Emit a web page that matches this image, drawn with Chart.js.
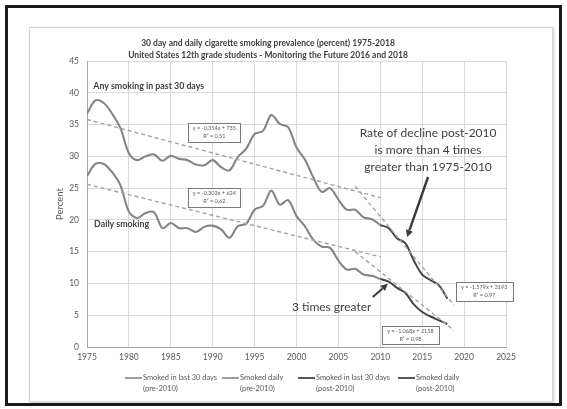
<!DOCTYPE html>
<html><head><meta charset="utf-8">
<script src="https://cdn.jsdelivr.net/npm/chart.js@4"></script>
<style>
html,body{margin:0;padding:0;background:#fff;width:567px;height:409px;overflow:hidden;}
#frame{position:absolute;left:5px;top:5px;width:551px;height:395px;border:3px solid #1a1a1a;}
#panel{position:absolute;left:29px;top:27px;width:522px;height:373px;border:1px solid #d4d4d4;background:#fff;box-shadow:1px 1px 3px rgba(0,0,0,0.18);}
#c{position:absolute;left:0;top:0;}
</style></head><body>
<div id="frame"></div><div id="panel"></div>
<canvas id="c" width="567" height="409"></canvas>
<script>
// ---- data ----
const years = [1975,1976,1977,1978,1979,1980,1981,1982,1983,1984,1985,1986,1987,1988,1989,1990,1991,1992,1993,1994,1995,1996,1997,1998,1999,2000,2001,2002,2003,2004,2005,2006,2007,2008,2009,2010,2011,2012,2013,2014,2015,2016,2017,2018];
const smoked30 = [36.7,38.8,38.4,36.7,34.4,30.5,29.4,30.0,30.3,29.3,30.1,29.6,29.4,28.7,28.6,29.4,28.3,27.8,29.9,31.2,33.5,34.0,36.5,35.1,34.6,31.4,29.5,26.7,24.4,25.0,23.2,21.6,21.6,20.4,20.1,19.2,18.7,17.1,16.3,13.6,11.4,10.5,9.7,7.6];
const smokedDaily = [26.9,28.8,28.8,27.5,25.4,21.3,20.3,21.1,21.2,18.7,19.5,18.7,18.7,18.1,18.9,19.1,18.5,17.2,19.0,19.4,21.6,22.2,24.6,22.4,23.1,20.6,19.0,16.9,15.8,15.6,13.6,12.2,12.3,11.4,11.2,10.7,10.3,9.3,8.5,6.7,5.5,4.8,4.2,3.6];
const splitYear = 2010;
const xTicks = [1975,1980,1985,1990,1995,2000,2005,2010,2015,2020,2025];
const yTicks = [0,5,10,15,20,25,30,35,40,45];
// trendline endpoints
const trend30PreX = [1975, 2010], trend30PreY = [35.8, 23.5];
const trendDailyPreX = [1975, 2010], trendDailyPreY = [25.6, 14.2];
const trend30PostX = [2007, 2018.8], trend30PostY = [25.3, 6.6];
const trendDailyPostX = [2007, 2018.8], trendDailyPostY = [15.0, 2.6];
const seriesNames = ['Smoked in last 30 days (pre-2010)','Smoked daily (pre-2010)','Smoked in last 30 days (post-2010)','Smoked daily (post-2010)'];

const FONT = 'Lato, "Open Sans", sans-serif';
const pts = (xs, ys, f) => xs.map((x,i)=>({x:x, y:ys[i]})).filter(p=>f(p.x));
const pre30 = pts(years, smoked30, x=>x<=splitYear);
const preDaily = pts(years, smokedDaily, x=>x<=splitYear);
const post30 = pts(years, smoked30, x=>x>=splitYear);
const postDaily = pts(years, smokedDaily, x=>x>=splitYear);
const trend = (xs, ys) => xs.map((x,i)=>({x:x, y:ys[i]}));

const preColor = '#858585', postColor = '#454545', trendColor = '#a3a3a3';
const lineDs = (label, data, color, w) => ({label, data, borderColor:color, borderWidth:w, pointRadius:0, tension:0.33, fill:false, order:1});
const trendDs = (data) => ({label:'trend', data, borderColor:trendColor, borderWidth:1.4, borderDash:[4,3], pointRadius:0, tension:0, fill:false, order:0});

// annotations (positions in data units)
const plotLabels = [
  {text:'Any smoking in past 30 days', year:1975.75, value:41.0, font:'bold 8.8px '+FONT, color:'#404040', align:'left', maxW:115},
  {text:'Daily smoking', year:1975.85, value:19.35, font:'bold 8.8px '+FONT, color:'#404040', align:'left', maxW:55},
  {text:'Rate of decline post-2010', year:2015.7, value:33.6, font:'12px '+FONT, color:'#404040', align:'center', maxW:148},
  {text:'is more than 4 times', year:2015.7, value:30.95, font:'12px '+FONT, color:'#404040', align:'center', maxW:120},
  {text:'greater than 1975-2010', year:2015.7, value:28.3, font:'12px '+FONT, color:'#404040', align:'center', maxW:138},
  {text:'3 times greater', year:2004.2, value:6.3, font:'12px '+FONT, color:'#404040', align:'center', maxW:90}
];
const eqBoxes = [
  {eq:'y = -0.354x + 735', r2:'R² = 0.51', year:1990.2, value:33.8, w:52, h:19},
  {eq:'y = -0.303x + 624', r2:'R² = 0.62', year:1990.2, value:23.5, w:52, h:19},
  {eq:'y = -1.579x + 3193', r2:'R² = 0.97', year:2022.4, value:8.7, w:57, h:19},
  {eq:'y = -1.068x + 2158', r2:'R² = 0.98', year:2013.6, value:1.9, w:57, h:18}
];
const arrows = [
  {from:[2015.7, 26.75], to:[2013.2, 17.3], w:2.4},
  {from:[2009.1, 7.85], to:[2010.9, 9.95], w:2.0}
];

function arrow(c, x1, y1, x2, y2, w){
  const a = Math.atan2(y2-y1, x2-x1), hl = 7, hw = 3.6;
  const bx = x2 - hl*Math.cos(a), by = y2 - hl*Math.sin(a);
  c.strokeStyle = '#3a3a3a'; c.fillStyle = '#3a3a3a'; c.lineWidth = w;
  c.beginPath(); c.moveTo(x1,y1); c.lineTo(bx,by); c.stroke();
  c.beginPath(); c.moveTo(x2,y2);
  c.lineTo(bx + hw*Math.sin(a), by - hw*Math.cos(a));
  c.lineTo(bx - hw*Math.sin(a), by + hw*Math.cos(a));
  c.closePath(); c.fill();
}

const notes = {
  id:'notes',
  afterDatasetsDraw(chart){
    const c = chart.ctx, xs = chart.scales.x, ys = chart.scales.y;
    const X = v=>xs.getPixelForValue(v), Y = v=>ys.getPixelForValue(v);
    c.save();
    c.textBaseline = 'middle';
    for (const n of plotLabels){
      c.font = n.font; c.fillStyle = n.color; c.textAlign = n.align;
      c.fillText(n.text, X(n.year), Y(n.value), n.maxW);
    }
    for (const b of eqBoxes){
      const cx = X(b.year), cy = Y(b.value);
      const l = Math.round(cx-b.w/2)+0.5, t = Math.round(cy-b.h/2)+0.5;
      c.fillStyle = '#fff'; c.fillRect(l, t, b.w, b.h);
      c.strokeStyle = '#7a7a7a'; c.lineWidth = 1; c.strokeRect(l, t, b.w, b.h);
      c.fillStyle = '#5a5a5a'; c.font = '5.5px '+FONT; c.textAlign = 'center';
      c.fillText(b.eq, cx, cy-4, b.w-4);
      c.fillText(b.r2, cx, cy+4, b.w-4);
    }
    for (const a of arrows){
      arrow(c, X(a.from[0]), Y(a.from[1]), X(a.to[0]), Y(a.to[1]), a.w);
    }
    c.restore();
  },
  afterDraw(chart){
    const c = chart.ctx;
    c.save();
    c.textBaseline = 'middle'; c.textAlign = 'center';
    c.fillStyle = '#404040'; c.font = 'bold 8.5px '+FONT;
    c.fillText('30 day and daily cigarette smoking prevalence (percent) 1975-2018', 268, 43, 280);
    c.fillText('United States 12th grade students - Monitoring the Future 2016 and 2018', 268, 55, 316);
    // legend
    const items = [
      {name:seriesNames[0], color:preColor, w:1.6, x:143},
      {name:seriesNames[1], color:preColor, w:1.6, x:240},
      {name:seriesNames[2], color:postColor, w:1.8, x:316},
      {name:seriesNames[3], color:postColor, w:1.8, x:416}
    ];
    c.textAlign = 'left'; c.font = '7.5px '+FONT; c.fillStyle = '#595959';
    for (const it of items){
      const k = it.name.lastIndexOf(' (');
      const l1 = it.name.slice(0,k), l2 = it.name.slice(k+1);
      c.strokeStyle = it.color; c.lineWidth = it.w;
      c.beginPath(); c.moveTo(it.x-18, 378); c.lineTo(it.x-1, 378); c.stroke();
      c.fillText(l1, it.x, 378, 74);
      c.fillText(l2, it.x, 389, 74);
    }
    c.restore();
  }
};

new Chart(document.getElementById('c'), {
  type:'line',
  data:{datasets:[
    lineDs(seriesNames[0], pre30, preColor, 2.1),
    lineDs(seriesNames[1], preDaily, preColor, 2.1),
    lineDs(seriesNames[2], post30, postColor, 2),
    lineDs(seriesNames[3], postDaily, postColor, 2),
    trendDs(trend(trend30PreX, trend30PreY)),
    trendDs(trend(trendDailyPreX, trendDailyPreY)),
    trendDs(trend(trend30PostX, trend30PostY)),
    trendDs(trend(trendDailyPostX, trendDailyPostY))
  ]},
  options:{
    responsive:false, animation:false, devicePixelRatio:1,
    layout:{padding:{left:50, top:61, right:61, bottom:42}},
    plugins:{legend:{display:false}, title:{display:false}, tooltip:{enabled:false}},
    scales:{
      x:{type:'linear', min:xTicks[0], max:xTicks[xTicks.length-1],
         afterBuildTicks:s=>{s.ticks = xTicks.map(v=>({value:v}));},
         ticks:{color:'#595959', font:{family:FONT, size:8.5}, padding:5, maxRotation:0, autoSkip:false, callback:v=>String(v)},
         grid:{color:'#d9d9d9', drawTicks:false, lineWidth:1},
         border:{color:'#a6a6a6'},
         afterFit:s=>{s.height = 20;}},
      y:{type:'linear', min:yTicks[0], max:yTicks[yTicks.length-1],
         afterBuildTicks:s=>{s.ticks = yTicks.map(v=>({value:v}));},
         ticks:{color:'#595959', font:{family:FONT, size:8.5}, padding:8, callback:v=>String(v)},
         grid:{color:'#d9d9d9', drawTicks:false, lineWidth:1},
         border:{color:'#a6a6a6'},
         title:{display:true, text:'Percent', color:'#595959', font:{family:FONT, size:9.5}, padding:{top:4, bottom:0}},
         afterFit:s=>{s.width = 37;}}
    }
  },
  plugins:[notes]
});
</script>
</body></html>
